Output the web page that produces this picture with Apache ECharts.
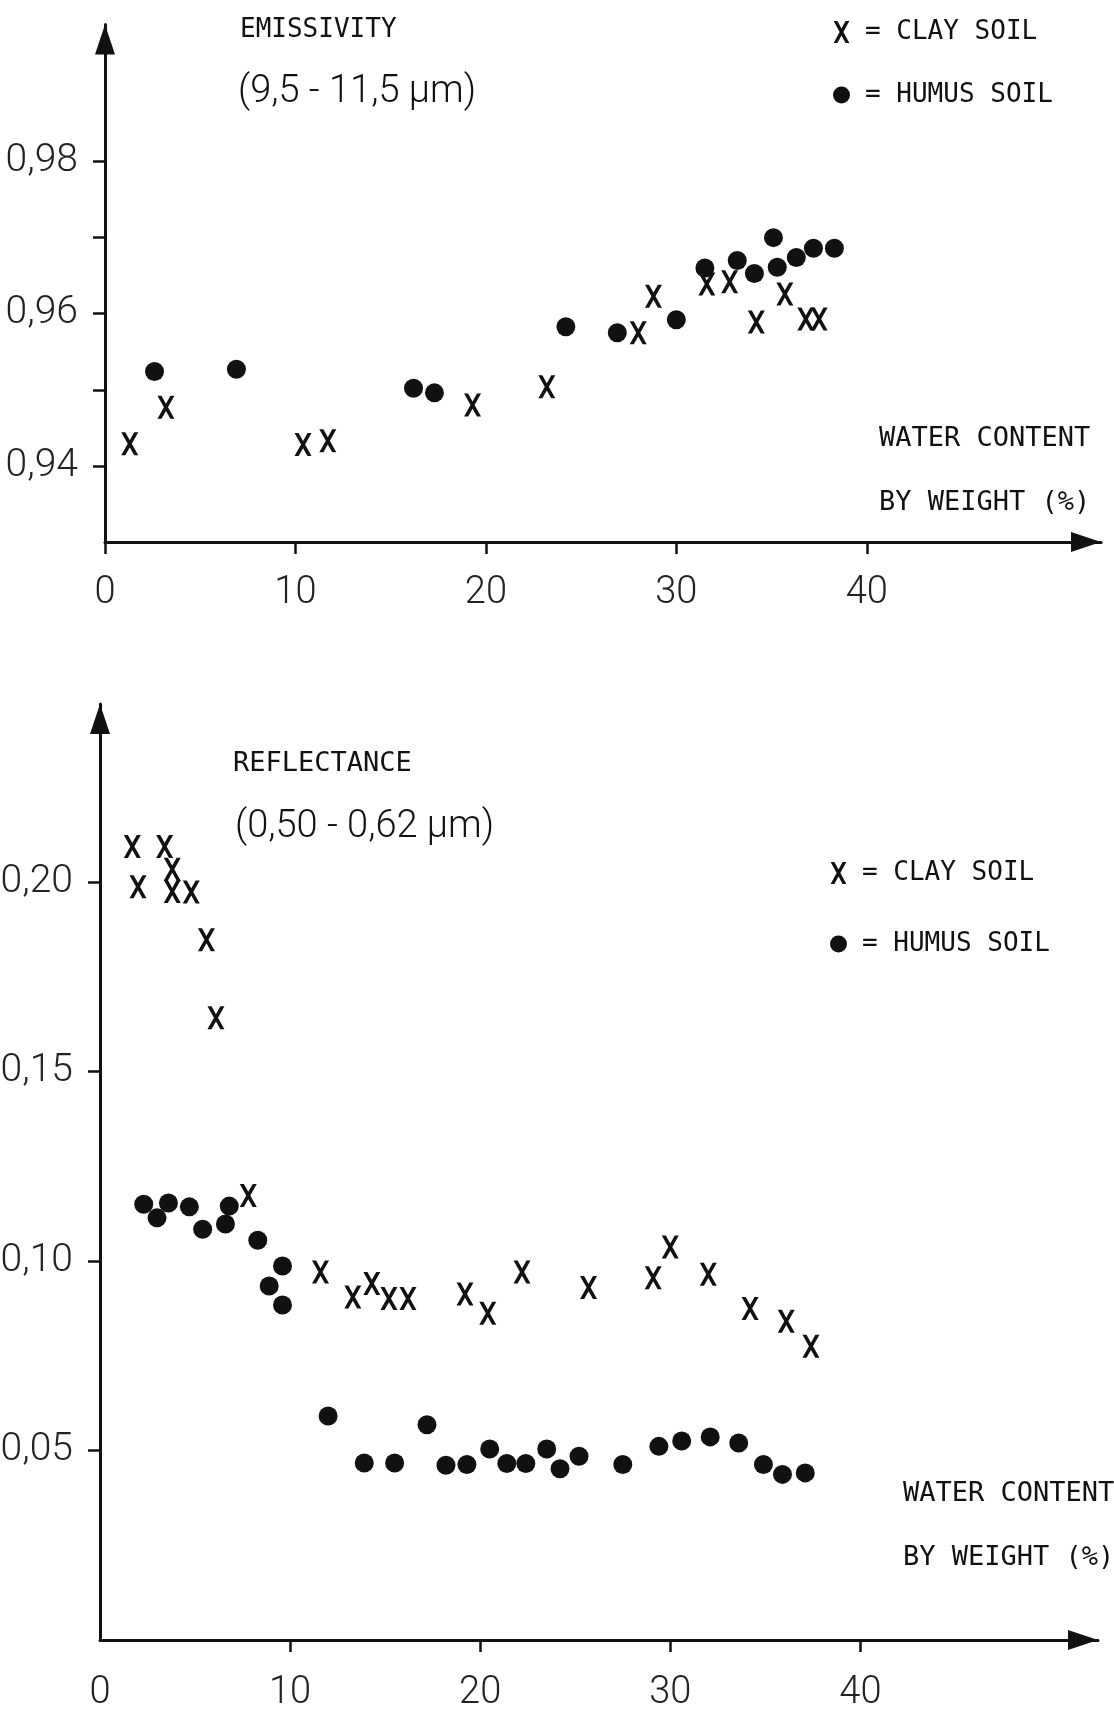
<!DOCTYPE html>
<html>
<head>
<meta charset="utf-8">
<title>Emissivity and reflectance vs water content</title>
<script src="https://cdn.jsdelivr.net/npm/echarts@6/dist/echarts.min.js"></script>
<style>
  html, body { margin: 0; padding: 0; background: #fff; }
  #main { width: 1114px; height: 1712px; }
</style>
</head>
<body>
<div id="main"></div>
<script>
// top panel: emissivity (9.5 - 11.5 um) vs water content by weight (%)
var emisClay = [
    [1.3, 0.9429], [3.2, 0.9477], [10.4, 0.9428], [11.7, 0.9433], [19.3, 0.9480],
    [23.2, 0.9504], [28.0, 0.9575], [28.8, 0.9623], [31.6, 0.9639], [32.8, 0.9642],
    [34.2, 0.9589], [35.7, 0.9626], [36.8, 0.9593], [37.5, 0.9593]
];
var emisHumus = [
    [2.6, 0.9524], [6.9, 0.9527], [16.2, 0.9502], [17.3, 0.9496], [24.2, 0.9583],
    [26.9, 0.9575], [30.0, 0.9592], [31.5, 0.9660], [33.2, 0.9670], [34.1, 0.9653],
    [35.1, 0.9700], [35.3, 0.9661], [36.3, 0.9674], [37.2, 0.9686], [38.3, 0.9686]
];

// bottom panel: reflectance (0.50 - 0.62 um)
var reflClay = [
    [1.7, 0.2094], [2.0, 0.1988], [3.4, 0.2094], [3.8, 0.2034], [3.8, 0.1975],
    [4.8, 0.1974], [5.6, 0.1848], [6.1, 0.1642], [7.8, 0.1173], [11.6, 0.0971],
    [13.3, 0.0905], [14.3, 0.0941], [15.2, 0.0901], [16.2, 0.0901], [19.2, 0.0913],
    [20.4, 0.0862], [22.2, 0.0971], [25.7, 0.0930], [29.1, 0.0956], [30.0, 0.1037],
    [32.0, 0.0965], [34.2, 0.0875], [36.1, 0.0841], [37.4, 0.0775]
];
var reflHumus = [
    [2.3, 0.1150], [3.0, 0.1114], [3.6, 0.1153], [4.7, 0.1143], [5.4, 0.1084],
    [6.6, 0.1098], [6.8, 0.1145], [8.3, 0.1055], [9.6, 0.0987], [8.9, 0.0934],
    [9.6, 0.0884], [12.0, 0.0591], [13.9, 0.0467], [15.5, 0.0467], [17.2, 0.0568],
    [18.2, 0.0461], [19.3, 0.0463], [20.5, 0.0504], [21.4, 0.0466], [22.4, 0.0466],
    [23.5, 0.0504], [24.2, 0.0452], [25.2, 0.0485], [27.5, 0.0463], [29.4, 0.0511],
    [30.6, 0.0525], [32.1, 0.0536], [33.6, 0.0520], [34.9, 0.0463], [35.9, 0.0437],
    [37.1, 0.0441]
];

// ticks and labels
var emisTicks = [0.94, 0.95, 0.96, 0.97, 0.98];
var emisLabels = [0.94, 0.96, 0.98];
var reflTicks = [0.05, 0.10, 0.15, 0.20];
var waterTicksTop = [0, 10, 20, 30, 40];
var waterTicksBottom = [10, 20, 30, 40];
var waterLabels = [0, 10, 20, 30, 40];

var ink = '#111';
var numFont = "Roboto, 'DejaVu Sans Condensed', sans-serif";
var monoFont = "'DejaVu Sans Mono', 'Liberation Mono', monospace";
// letter X used as the clay marker
var xMark = 'path://M0,0 L24,0 L50,47.9 L76,0 L100,0 L62,70 L100,140 L76,140 L50,92.1 L24,140 L0,140 L38,70 Z';

function comma(v) {
    return v.toFixed(2).replace('.', ',');
}

function axisLine() {
    return {
        show: true,
        onZero: false,
        lineStyle: { color: ink, width: 3 },
        symbol: ['none', 'triangle'],
        symbolSize: [20, 30],
        symbolOffset: [0, -15]
    };
}

function xAxis(grid, max, ticks, margin) {
    return {
        gridIndex: grid, type: 'value', min: 0, max: max,
        axisLine: axisLine(),
        axisTick: { show: true, customValues: ticks, length: 12, lineStyle: { color: ink, width: 2.5 } },
        axisLabel: { customValues: waterLabels, fontFamily: numFont, fontWeight: 300, fontSize: 38, color: '#222', margin: margin },
        splitLine: { show: false }
    };
}

function yAxis(grid, min, max, ticks, labels) {
    return {
        gridIndex: grid, type: 'value', min: min, max: max,
        axisLine: axisLine(),
        axisTick: { show: true, customValues: ticks, length: 12, lineStyle: { color: ink, width: 2.5 } },
        axisLabel: { customValues: labels, formatter: comma, fontFamily: numFont, fontWeight: 300, fontSize: 39, color: '#222', margin: 27 },
        splitLine: { show: false }
    };
}

function legend(left, top, gap) {
    return {
        left: left, top: top, orient: 'vertical', itemGap: gap, padding: 0,
        itemWidth: 17, itemHeight: 22,
        data: [{ name: 'CLAY SOIL', icon: xMark }, { name: 'HUMUS SOIL', icon: 'circle' }],
        formatter: function (name) { return '= ' + name; },
        textStyle: { fontFamily: monoFont, fontSize: 26, color: ink, padding: [0, 0, 0, 10] },
        selectedMode: false
    };
}

function label(text, left, top, size, font, lh, weight) {
    return {
        text: text, left: left, top: top, padding: 0,
        textStyle: { fontFamily: font, fontSize: size, fontWeight: weight || 'normal', color: ink, lineHeight: lh || size }
    };
}

function points(name, grid, data) {
    var clay = name === 'CLAY SOIL';
    return {
        type: 'scatter', name: name, xAxisIndex: grid, yAxisIndex: grid, data: data,
        symbol: clay ? xMark : 'circle',
        symbolSize: clay ? [17, 23] : 19,
        itemStyle: { color: ink, opacity: 1 },
        emphasis: { disabled: true }
    };
}

var chart = echarts.init(document.getElementById('main'));
chart.setOption({
    animation: false,
    backgroundColor: '#fff',
    title: [
        label('EMISSIVITY', 240, 17, 26, monoFont),
        label('(9,5 - 11,5 μm)', 238, 73, 38, numFont, 38, 300),
        label('WATER CONTENT\nBY WEIGHT (%)', 879, 407, 27, monoFont, 64),
        label('REFLECTANCE', 233, 750, 27, monoFont),
        label('(0,50 - 0,62 μm)', 235, 808, 38, numFont, 38, 300),
        label('WATER CONTENT\nBY WEIGHT (%)', 903, 1462, 27, monoFont, 64)
    ],
    legend: [legend(833, 19, 37), legend(830, 860, 45)],
    grid: [
        { left: 105, right: 13, top: 24.6, bottom: 1170, outerBoundsMode: 'none' },
        { left: 100, right: 16, top: 704, bottom: 72, outerBoundsMode: 'none' }
    ],
    xAxis: [
        xAxis(0, 52.3, waterTicksTop, 32),
        xAxis(1, 52.5, waterTicksBottom, 34)
    ],
    yAxis: [
        yAxis(0, 0.93, 0.998, emisTicks, emisLabels),
        yAxis(1, 0, 0.247, reflTicks, reflTicks)
    ],
    series: [
        points('CLAY SOIL', 0, emisClay),
        points('HUMUS SOIL', 0, emisHumus),
        points('CLAY SOIL', 1, reflClay),
        points('HUMUS SOIL', 1, reflHumus)
    ]
});
</script>
</body>
</html>
